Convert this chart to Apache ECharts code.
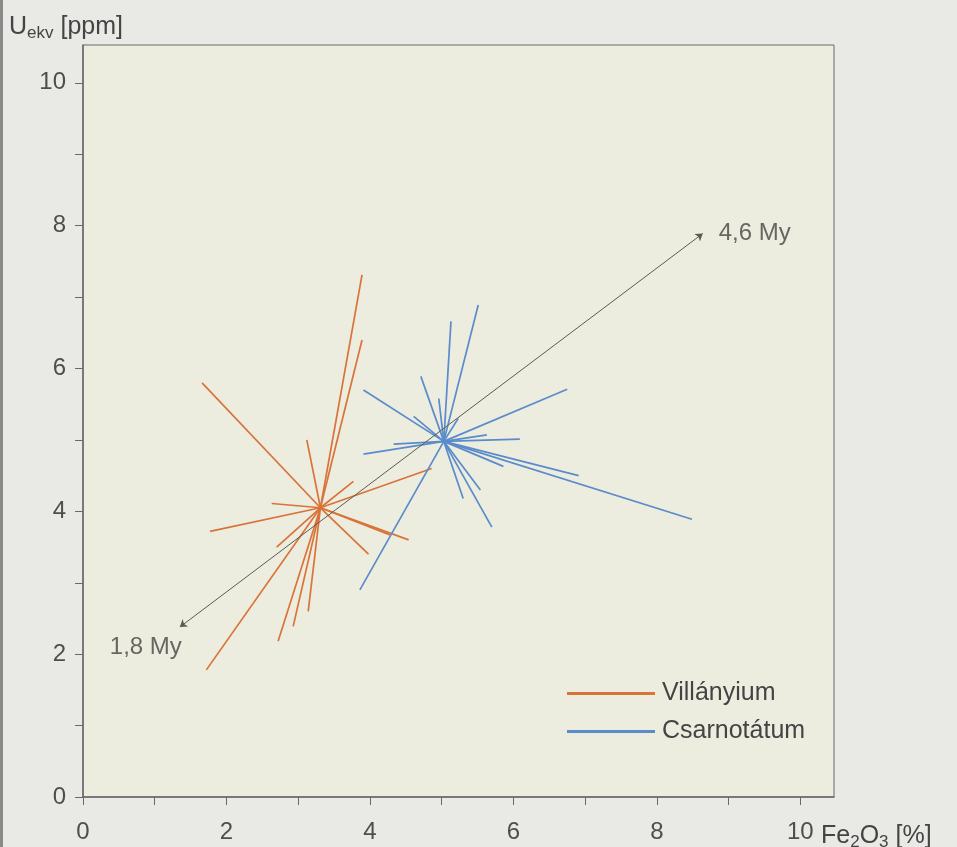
<!DOCTYPE html>
<html>
<head>
    <meta charset="utf-8" />
    <script src="https://cdn.jsdelivr.net/npm/echarts@6/dist/echarts.min.js"></script>
    <style>
        html, body { margin: 0; padding: 0; background: #e9e9e6; }
    </style>
</head>
<body>
    <div id="main" style="width: 957px;height: 847px;"></div>

    <script type="text/javascript">
        // star centres and ray end points (Fe2O3 %, U ppm)
        var villanyCenter = [3.31, 4.05];
        var villanyEnds = [
            [3.89, 7.31], [3.89, 6.40], [1.66, 5.80], [3.12, 5.00], [3.77, 4.42],
            [4.86, 4.60], [2.63, 4.11], [1.77, 3.72], [2.70, 3.50], [4.54, 3.60],
            [4.28, 3.67], [3.98, 3.40], [1.72, 1.78], [2.72, 2.18], [2.93, 2.39],
            [3.14, 2.60]
        ];
        var csarnoCenter = [5.03, 4.98];
        var csarnoEnds = [
            [5.51, 6.89], [5.13, 6.66], [4.71, 5.89], [3.91, 5.70], [6.75, 5.71],
            [4.61, 5.33], [4.96, 5.58], [5.23, 5.30], [6.09, 5.01], [5.63, 5.07],
            [3.91, 4.80], [4.33, 4.94], [6.91, 4.50], [8.49, 3.89], [5.86, 4.63],
            [5.54, 4.30], [5.30, 4.18], [5.70, 3.78], [3.86, 2.90]
        ];
        // age trend arrow
        var arrowStart = [1.35, 2.38];
        var arrowEnd = [8.64, 7.89];
        var arrowLabels = ['1,8 My', '4,6 My'];
        var seriesNames = ['Villányium', 'Csarnotátum'];

        function rays(center, ends) {
            return ends.map(function (e) {
                return { coords: [center, e] };
            });
        }

        var chartDom = document.getElementById('main');
        var myChart = echarts.init(chartDom);
        var option;

        var axisColor = '#6f6668';
        var labelColor = '#4e4e4e';
        var font = '"Liberation Sans", Arial, sans-serif';

        option = {
            backgroundColor: '#e9e9e6',
            animation: false,
            graphic: [
                // dark scan edge on the left
                { type: 'rect', left: 0, top: 0, shape: { width: 3, height: 847 }, style: { fill: '#8a8a88' } }
            ],
            title: [
                {
                    left: 4, top: 8,
                    text: '{a|U}{s|ekv}{a| [ppm]}',
                    textStyle: {
                        rich: {
                            a: { fontSize: 25, fontWeight: 'normal', color: '#444', fontFamily: font },
                            s: { fontSize: 17, fontWeight: 'normal', color: '#444', fontFamily: font, padding: [12, 0, 0, 0] }
                        }
                    }
                },
                {
                    left: 816, top: 817,
                    text: '{a|Fe}{s|2}{a|O}{s|3}{a| [%]}',
                    textStyle: {
                        rich: {
                            a: { fontSize: 25, fontWeight: 'normal', color: '#444', fontFamily: font },
                            s: { fontSize: 17, fontWeight: 'normal', color: '#444', fontFamily: font, padding: [12, 0, 0, 0] }
                        }
                    }
                }
            ],
            legend: {
                orient: 'vertical',
                left: 562, top: 676,
                itemWidth: 86, itemHeight: 1,
                itemGap: 13,
                icon: 'rect',
                data: seriesNames,
                textStyle: { fontSize: 25, color: '#444', fontFamily: font, padding: [0, 0, 0, 3] }
            },
            grid: {
                left: 83, top: 45, width: 751, height: 752,
                show: true,
                backgroundColor: '#ededdf',
                borderColor: axisColor,
                borderWidth: 1
            },
            xAxis: {
                type: 'value',
                min: 0, max: 10.47, interval: 1,
                splitLine: { show: false },
                axisLine: { lineStyle: { color: axisColor, width: 1.5 } },
                axisTick: { length: 8, lineStyle: { color: axisColor } },
                axisLabel: {
                    margin: 23, fontSize: 24, color: labelColor, fontFamily: font,
                    showMaxLabel: false,
                    formatter: function (v) { return v % 2 === 0 ? String(v) : ''; }
                }
            },
            yAxis: {
                type: 'value',
                min: 0, max: 10.53, interval: 1,
                splitLine: { show: false },
                axisLine: { lineStyle: { color: axisColor, width: 1.5 } },
                axisTick: { length: 8, lineStyle: { color: axisColor } },
                axisLabel: {
                    margin: 17, fontSize: 24, color: labelColor, fontFamily: font,
                    showMaxLabel: false,
                    formatter: function (v) { return v % 2 === 0 ? String(v) : ''; }
                }
            },
            series: [
                {
                    name: 'age',
                    type: 'lines',
                    coordinateSystem: 'cartesian2d',
                    symbol: ['arrow', 'arrow'],
                    symbolSize: 7,
                    lineStyle: { color: '#5a5a55', width: 1, opacity: 1 },
                    data: [{ coords: [arrowStart, arrowEnd] }],
                    z: 3
                },
                {
                    name: seriesNames[0],
                    type: 'lines',
                    coordinateSystem: 'cartesian2d',
                    itemStyle: { color: '#d9733a' },
                    lineStyle: { color: '#d9733a', width: 1.7, opacity: 1 },
                    data: rays(villanyCenter, villanyEnds),
                    z: 2
                },
                {
                    name: seriesNames[1],
                    type: 'lines',
                    coordinateSystem: 'cartesian2d',
                    itemStyle: { color: '#5a8bcb' },
                    lineStyle: { color: '#5a8bcb', width: 1.7, opacity: 1 },
                    data: rays(csarnoCenter, csarnoEnds),
                    z: 2
                },
                {
                    name: 'ageLabels',
                    type: 'scatter',
                    symbolSize: 0,
                    silent: true,
                    data: [
                        {
                            value: arrowStart,
                            label: { show: true, formatter: arrowLabels[0], position: 'inside', offset: [-34, 20] }
                        },
                        {
                            value: arrowEnd,
                            label: { show: true, formatter: arrowLabels[1], position: 'right', distance: 16 }
                        }
                    ],
                    label: { fontSize: 24, color: '#444', fontFamily: font },
                    z: 4
                }
            ]
        };
        option && myChart.setOption(option);
    </script>
</body>
</html>
